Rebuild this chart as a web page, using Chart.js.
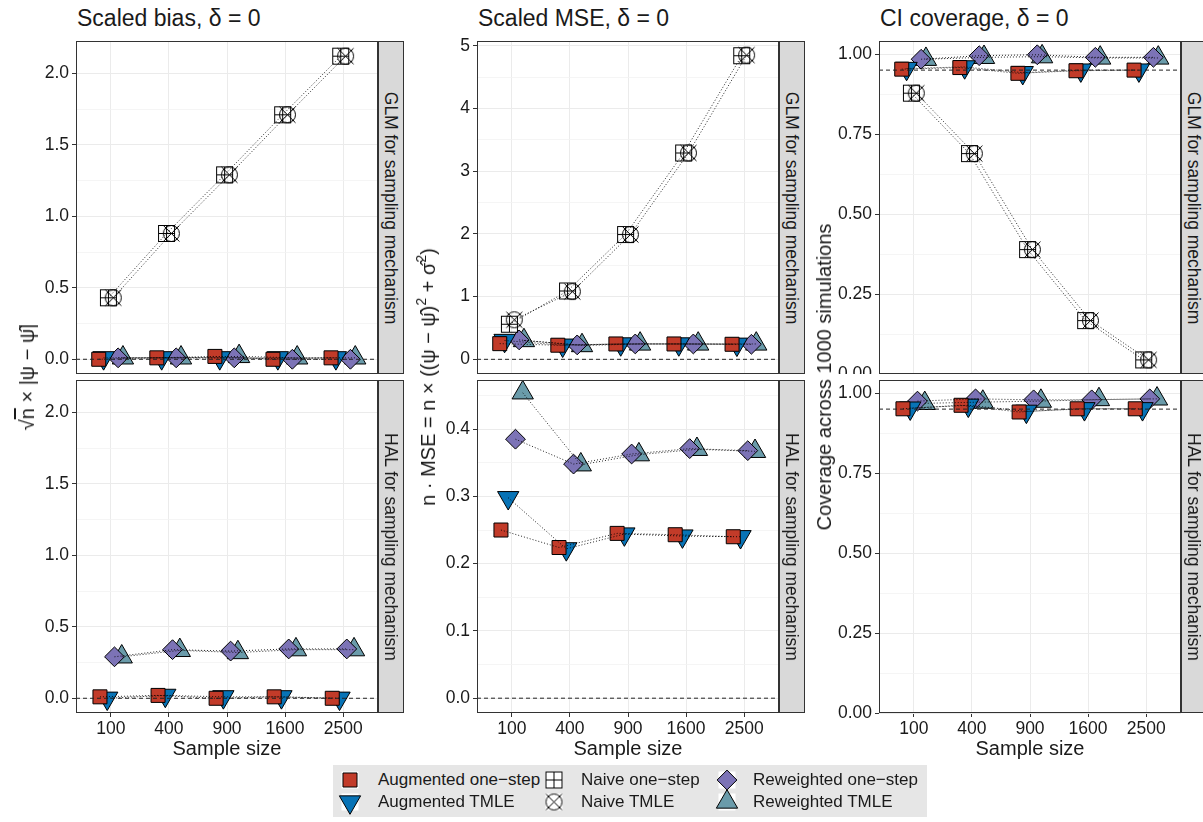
<!DOCTYPE html>
<html><head><meta charset="utf-8">
<script src="https://cdn.jsdelivr.net/npm/chart.js@4.4.0/dist/chart.umd.min.js"></script>
<style>
body{margin:0;background:#fff;width:1203px;height:822px;position:relative;overflow:hidden;font-family:'Liberation Sans',Arial,Helvetica,sans-serif;color:#1a1a1a}
canvas{position:absolute}
.title{position:absolute;font-size:23px;line-height:23px;top:7px;white-space:nowrap}
.strip{position:absolute;background:#d9d9d9;border:1px solid #333;box-sizing:border-box;overflow:hidden}
.striptext{position:absolute;left:50%;top:50%;transform:translate(-50%,-50%) rotate(90deg);white-space:nowrap;font-size:17.5px;line-height:18px;color:#1a1a1a}
.ytitle{position:absolute;transform:translate(-50%,-50%) rotate(-90deg);white-space:nowrap;font-size:20px;line-height:22px}
.ytitle sup{font-size:14px;line-height:0;vertical-align:9px}
.xtitle{position:absolute;transform:translateX(-50%);font-size:20px;line-height:22px;white-space:nowrap}
.legend{position:absolute;background:#e6e6e6}
.legtext{position:absolute;font-size:17px;line-height:18px;white-space:nowrap}
</style></head><body>
<script>
// ---------------- DATA ----------------
const sampleSizes = ['100', '400', '900', '1600', '2500'];
const seriesNames = ['Augmented one-step', 'Augmented TMLE', 'Naive one-step', 'Naive TMLE', 'Reweighted one-step', 'Reweighted TMLE'];
const mechanisms = ['GLM for sampling mechanism', 'HAL for sampling mechanism'];

// Scaled bias (sqrt(n) x |psi - psihat|)
const biasGLM_augOS     = [0.00, 0.01, 0.02, 0.00, 0.01];
const biasGLM_augTMLE   = [0.01, 0.01, 0.01, 0.01, 0.01];
const biasGLM_naiveOS   = [0.43, 0.88, 1.29, 1.71, 2.12];
const biasGLM_naiveTMLE = [0.43, 0.88, 1.29, 1.71, 2.12];
const biasGLM_rwOS      = [0.01, 0.01, 0.01, 0.00, 0.00];
const biasGLM_rwTMLE    = [0.01, 0.01, 0.02, 0.01, 0.01];
const biasHAL_augOS     = [0.01, 0.02, 0.00, 0.01, 0.00];
const biasHAL_augTMLE   = [0.00, 0.02, 0.01, 0.01, 0.00];
const biasHAL_rwOS      = [0.29, 0.34, 0.33, 0.345, 0.345];
const biasHAL_rwTMLE    = [0.29, 0.335, 0.32, 0.34, 0.34];

// Scaled MSE
const mseGLM_augOS      = [0.25, 0.225, 0.245, 0.245, 0.24];
const mseGLM_augTMLE    = [0.30, 0.225, 0.245, 0.245, 0.24];
const mseGLM_naiveOS    = [0.56, 1.09, 1.99, 3.29, 4.84];
const mseGLM_naiveTMLE  = [0.63, 1.08, 1.99, 3.29, 4.85];
const mseGLM_rwOS       = [0.31, 0.23, 0.245, 0.245, 0.24];
const mseGLM_rwTMLE     = [0.30, 0.22, 0.245, 0.245, 0.245];
const mseHAL_augOS      = [0.25, 0.224, 0.245, 0.243, 0.24];
const mseHAL_augTMLE    = [0.298, 0.222, 0.244, 0.241, 0.24];
const mseHAL_rwOS       = [0.385, 0.348, 0.363, 0.371, 0.368];
const mseHAL_rwTMLE     = [0.454, 0.347, 0.362, 0.370, 0.367];

// CI coverage
const covGLM_augOS      = [0.953, 0.958, 0.940, 0.948, 0.950];
const covGLM_augTMLE    = [0.955, 0.960, 0.942, 0.950, 0.950];
const covGLM_naiveOS    = [0.878, 0.689, 0.389, 0.167, 0.044];
const covGLM_naiveTMLE  = [0.878, 0.689, 0.389, 0.167, 0.044];
const covGLM_rwOS       = [0.984, 0.995, 0.998, 0.990, 0.990];
const covGLM_rwTMLE     = [0.984, 0.990, 0.992, 0.988, 0.988];
const covHAL_augOS      = [0.951, 0.962, 0.941, 0.951, 0.951];
const covHAL_augTMLE    = [0.953, 0.962, 0.943, 0.951, 0.951];
const covHAL_rwOS       = [0.975, 0.982, 0.979, 0.979, 0.982];
const covHAL_rwTMLE     = [0.968, 0.972, 0.975, 0.980, 0.982];

// reference lines
const biasRef = 0, mseRef = 0, covRef = 0.95;

// tick values / labels
const biasTicks = [0, 0.5, 1, 1.5, 2];
const biasTickLabels = ['0.0', '0.5', '1.0', '1.5', '2.0'];
const biasMinor = [0.25, 0.75, 1.25, 1.75];
const mseGLMTicks = [0, 1, 2, 3, 4, 5];
const mseGLMTickLabels = ['0', '1', '2', '3', '4', '5'];
const mseGLMMinor = [0.5, 1.5, 2.5, 3.5, 4.5];
const mseHALTicks = [0, 0.1, 0.2, 0.3, 0.4];
const mseHALTickLabels = ['0.0', '0.1', '0.2', '0.3', '0.4'];
const mseHALMinor = [0.05, 0.15, 0.25, 0.35, 0.45];
const covTicks = [0, 0.25, 0.5, 0.75, 1];
const covTickLabels = ['0.00', '0.25', '0.50', '0.75', '1.00'];
const covMinor = [0.125, 0.375, 0.625, 0.875];

// ---------------- STYLE ----------------
const RED = '#C23B29', BLUE = '#0873B6', PURPLE = '#7C73B6', TEAL = '#6A9BAA';
const FONT = "'Liberation Sans', Arial, Helvetica, sans-serif";
const TXT = '#1a1a1a';

function naiveSquareImg() {
  const c = document.createElement('canvas'); c.width = 21; c.height = 21;
  const g = c.getContext('2d'); g.strokeStyle = '#000'; g.lineWidth = 1;
  g.strokeRect(2.5, 2.5, 16, 16);
  g.beginPath(); g.moveTo(10.5, 2.5); g.lineTo(10.5, 18.5); g.moveTo(2.5, 10.5); g.lineTo(18.5, 10.5); g.stroke();
  return c;
}
function naiveCircleImg() {
  const c = document.createElement('canvas'); c.width = 21; c.height = 21;
  const g = c.getContext('2d'); g.strokeStyle = '#000'; g.lineWidth = 1;
  g.beginPath(); g.arc(10.5, 10.5, 8, 0, Math.PI * 2); g.stroke();
  g.beginPath(); g.moveTo(2.5, 2.5); g.lineTo(18.5, 18.5); g.moveTo(18.5, 2.5); g.lineTo(2.5, 18.5); g.stroke();
  return c;
}
const IMG_SQ = naiveSquareImg(), IMG_CI = naiveCircleImg();

const seriesStyle = [
  {style: 'rect', r: 9.9, rot: 0, fill: RED},
  {style: 'triangle', r: 12.3, rot: 180, fill: BLUE},
  {style: IMG_SQ, r: 8, rot: 0, fill: 'rgba(0,0,0,0)'},
  {style: IMG_CI, r: 8, rot: 0, fill: 'rgba(0,0,0,0)'},
  {style: 'rectRot', r: 9.9, rot: 0, fill: PURPLE},
  {style: 'triangle', r: 12.3, rot: 0, fill: TEAL}
];

// panel geometry (pixels)
const colLeft = [76, 477, 879];
const rowTop = [41, 380];
const PW = 302, PH = 333;

const panels = [
  {col: 0, row: 0, yr: [-0.103, 2.226], major: biasTicks, labels: biasTickLabels, minor: biasMinor, ref: biasRef,
   series: [biasGLM_augOS, biasGLM_augTMLE, biasGLM_naiveOS, biasGLM_naiveTMLE, biasGLM_rwOS, biasGLM_rwTMLE]},
  {col: 0, row: 1, yr: [-0.103, 2.226], major: biasTicks, labels: biasTickLabels, minor: biasMinor, ref: biasRef,
   series: [biasHAL_augOS, biasHAL_augTMLE, null, null, biasHAL_rwOS, biasHAL_rwTMLE]},
  {col: 1, row: 0, yr: [-0.234, 5.075], major: mseGLMTicks, labels: mseGLMTickLabels, minor: mseGLMMinor, ref: mseRef,
   series: [mseGLM_augOS, mseGLM_augTMLE, mseGLM_naiveOS, mseGLM_naiveTMLE, mseGLM_rwOS, mseGLM_rwTMLE]},
  {col: 1, row: 1, yr: [-0.022, 0.473], major: mseHALTicks, labels: mseHALTickLabels, minor: mseHALMinor, ref: mseRef,
   series: [mseHAL_augOS, mseHAL_augTMLE, null, null, mseHAL_rwOS, mseHAL_rwTMLE]},
  {col: 2, row: 0, yr: [0, 1.041], major: covTicks, labels: covTickLabels, minor: covMinor, ref: covRef,
   series: [covGLM_augOS, covGLM_augTMLE, covGLM_naiveOS, covGLM_naiveTMLE, covGLM_rwOS, covGLM_rwTMLE]},
  {col: 2, row: 1, yr: [0, 1.041], major: covTicks, labels: covTickLabels, minor: covMinor, ref: covRef,
   series: [covHAL_augOS, covHAL_augTMLE, null, null, covHAL_rwOS, covHAL_rwTMLE]}
];

const borderPlugin = {
  id: 'panelBorder',
  afterDraw(chart) {
    const a = chart.chartArea, g = chart.ctx;
    g.save(); g.strokeStyle = '#333'; g.lineWidth = 1;
    g.strokeRect(a.left + 0.5, a.top + 0.5, a.right - a.left - 1, a.bottom - a.top - 1);
    g.restore();
  }
};

const DODGE = 0.5;
function near(a, b) { return Math.abs(a - b) < 1e-9; }

panels.forEach(p => {
  const YW = 60, PT = 3, PR = 3;
  const showX = p.row === 1;
  const XH = showX ? 40 : 0;
  const cv = document.createElement('canvas');
  const W = PW + YW + PR, H = PH + PT + XH;
  cv.width = W; cv.height = H;
  cv.style.width = W + 'px'; cv.style.height = H + 'px';
  cv.style.left = (colLeft[p.col] - YW) + 'px';
  cv.style.top = (rowTop[p.row] - PT) + 'px';
  document.body.appendChild(cv);

  const present = p.series.map((s, k) => s ? k : -1).filter(k => k >= 0);
  const n = present.length;
  const datasets = [];
  // reference dashed line
  datasets.push({
    type: 'line', data: [{x: -0.6, y: p.ref}, {x: 4.6, y: p.ref}], borderColor: '#222', borderWidth: 1,
    borderDash: [4, 3], pointRadius: 0, order: -2
  });
  present.forEach((k, j) => {
    const off = (j - (n - 1) / 2) * (DODGE / n);
    const pts = p.series[k].map((v, i) => ({x: i + off, y: v}));
    const st = seriesStyle[k];
    datasets.push({
      type: 'line', label: seriesNames[k], data: pts, showLine: false,
      pointStyle: st.style, pointRadius: st.r, pointRotation: st.rot,
      pointBackgroundColor: st.fill, pointBorderColor: '#000', pointBorderWidth: 1,
      order: 0
    });
    datasets.push({
      type: 'line', label: seriesNames[k] + ' line', data: pts, showLine: true,
      borderColor: 'rgba(0,0,0,0.85)', borderWidth: 1, borderDash: [1, 2], pointRadius: 0,
      order: -1
    });
  });

  new Chart(cv, {
    type: 'line',
    data: {datasets},
    plugins: [borderPlugin],
    options: {
      responsive: false, animation: false, devicePixelRatio: 1, events: [],
      layout: {autoPadding: false, padding: {left: 0, top: PT, right: PR, bottom: 0}},
      plugins: {legend: {display: false}, tooltip: {enabled: false}},
      scales: {
        x: {
          type: 'linear', min: -0.6, max: 4.6,
          afterBuildTicks: s => { s.ticks = sampleSizes.map((_, i) => ({value: i})); },
          afterFit: s => { s.height = XH; s.paddingLeft = 0; s.paddingRight = 0; },
          ticks: {display: showX, autoSkip: false, maxRotation: 0, padding: 2,
                  callback: v => sampleSizes[v], color: TXT, font: {family: FONT, size: 17.5}},
          grid: {color: '#ebebeb', lineWidth: 1, drawTicks: showX, tickLength: 4, tickColor: '#333'},
          border: {display: false}
        },
        y: {
          type: 'linear', min: p.yr[0], max: p.yr[1],
          afterBuildTicks: s => {
            s.ticks = p.major.concat(p.minor).filter(v => v >= p.yr[0] && v <= p.yr[1])
              .sort((a, b) => a - b).map(v => ({value: v}));
          },
          afterFit: s => { s.width = YW; s.paddingTop = 0; s.paddingBottom = 0; },
          ticks: {autoSkip: false, padding: 3, color: TXT, font: {family: FONT, size: 17.5},
                  callback: v => { const i = p.major.findIndex(m => near(m, v)); return i >= 0 ? p.labels[i] : ''; }},
          grid: {
            color: c => (c.tick && p.major.some(m => near(m, c.tick.value))) ? '#ebebeb' : '#f3f3f3',
            lineWidth: c => (c.tick && p.major.some(m => near(m, c.tick.value))) ? 1 : 0.8,
            tickColor: c => (c.tick && p.major.some(m => near(m, c.tick.value))) ? '#333' : 'rgba(0,0,0,0)',
            tickLength: 4
          },
          border: {display: false}
        }
      }
    }
  });
});

// ---------------- TEXT / STRIPS ----------------
function addDiv(cls, html, css) {
  const d = document.createElement('div'); d.className = cls; d.innerHTML = html;
  Object.assign(d.style, css); document.body.appendChild(d); return d;
}
addDiv('title', 'Scaled bias, δ = 0', {left: '77px'});
addDiv('title', 'Scaled MSE, δ = 0', {left: '478px'});
addDiv('title', 'CI coverage, δ = 0', {left: '880px'});

[0, 1, 2].forEach(c => {
  [0, 1].forEach(r => {
    const s = addDiv('strip', '', {left: (colLeft[c] + PW) + 'px', top: rowTop[r] + 'px', width: '26px', height: PH + 'px'});
    const t = document.createElement('div'); t.className = 'striptext'; t.textContent = mechanisms[r]; s.appendChild(t);
  });
  addDiv('xtitle', 'Sample size', {left: (colLeft[c] + PW / 2) + 'px', top: '737px'});
});

addDiv('ytitle', '√<span style="text-decoration:overline">n</span> × |ψ − ψ&#770;|', {left: '27px', top: '377px'});
addDiv('ytitle', 'n · MSE = n × ((ψ − ψ&#770;)<sup>2</sup> + σ&#770;<sup>2</sup>)', {left: '428px', top: '377px'});
addDiv('ytitle', 'Coverage across 1000 simulations', {left: '824px', top: '377px'});

// ---------------- LEGEND ----------------
addDiv('legend', '', {left: '333px', top: '765px', width: '594px', height: '52px'});
const legCols = [{ix: 350, tx: 378}, {ix: 554, tx: 581}, {ix: 727, tx: 753}];
const legRows = [780, 802];
function drawIcon(k, cx, cy) {
  const c = document.createElement('canvas'); c.width = 30; c.height = 30;
  c.style.left = (cx - 15) + 'px'; c.style.top = (cy - 15) + 'px';
  const g = c.getContext('2d');
  g.fillStyle = '#fff'; g.fillRect(6.5, 6.5, 17, 17);
  const st = seriesStyle[k]; const x = 15, y = 15;
  g.strokeStyle = '#000'; g.lineWidth = 1; g.fillStyle = st.fill;
  g.beginPath();
  if (st.style === 'rect') { const h = st.r * Math.SQRT1_2; g.rect(x - h, y - h, 2 * h, 2 * h); }
  else if (st.style === 'rectRot') { g.moveTo(x - st.r, y); g.lineTo(x, y - st.r); g.lineTo(x + st.r, y); g.lineTo(x, y + st.r); g.closePath(); }
  else if (st.style === 'triangle') {
    let a = st.rot * Math.PI / 180;
    for (let i = 0; i < 3; i++) { const px = x + Math.sin(a) * st.r, py = y - Math.cos(a) * st.r; i ? g.lineTo(px, py) : g.moveTo(px, py); a += 2 * Math.PI / 3; }
    g.closePath();
  }
  if (typeof st.style === 'string') { g.fill(); g.stroke(); }
  else { g.drawImage(st.style, x - 10.5, y - 10.5); }
  document.body.appendChild(c);
}
[[0, 1], [2, 3], [4, 5]].forEach((pair, ci) => {
  pair.forEach((k, ri) => {
    drawIcon(k, legCols[ci].ix, legRows[ri]);
    addDiv('legtext', seriesNames[k].replace('-', '−'), {left: legCols[ci].tx + 'px', top: (legRows[ri] - 9) + 'px'});
  });
});
</script>
</body></html>
